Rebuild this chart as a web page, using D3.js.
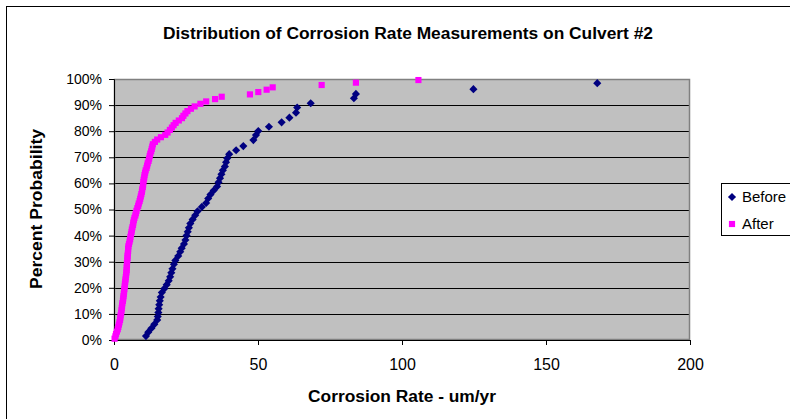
<!DOCTYPE html>
<html>
<head>
<meta charset="utf-8">
<script src="https://cdn.jsdelivr.net/npm/d3@7"></script>
<style>
  body { margin: 0; background: #fff; }
  svg { display: block; font-family: Arial, "Liberation Sans", sans-serif; }
</style>
</head>
<body>
<div id="chart"></div>
<script>
// values: [rate um/yr, percent probability]
const beforeData = [
  [11.1,1.5],[11.9,3.0],[13.0,4.5],[14.0,6.0],[15.0,7.7],[15.2,9.0],[15.4,10.5],[15.5,12.0],
  [15.7,13.5],[15.9,15.0],[16.2,16.5],[16.6,18.2],[17.5,19.7],[18.3,21.2],[19.0,22.7],[19.5,24.2],
  [19.9,25.8],[20.3,27.3],[20.8,29.0],[21.3,30.5],[22.3,32.2],[23.0,33.8],[23.5,35.2],[24.3,36.8],
  [24.8,38.3],[25.2,40.0],[25.6,41.5],[26.0,43.0],[26.5,44.6],[27.3,46.2],[28.2,47.8],[29.0,49.3],
  [30.5,51.0],[32.0,52.5],[32.7,54.2],[33.5,55.7],[34.6,57.3],[35.8,58.8],[36.3,60.4],[36.8,62.0],
  [37.3,63.5],[37.8,65.0],[38.5,66.5],[38.9,68.1],[39.3,69.6],[40.0,71.2],[42.4,72.7],[44.9,74.3],
  [48.4,76.6],[49.3,78.5],[50.1,80.1],[53.8,81.7],[58.2,83.4],[60.9,85.2],[63.2,87.1],[63.6,89.1],
  [68.3,90.7],[83.3,92.6],[84.0,94.3],[124.8,96.1],[167.8,98.4]
];

const afterData = [
  [0.2,0.5],[0.5,1.4],[0.7,2.3],[1.0,3.2],[1.3,4.1],[1.5,5.0],[1.7,5.9],[1.9,6.8],[2.1,7.7],[2.2,8.6],
  [2.3,9.5],[2.5,10.4],[2.6,11.4],[2.7,12.3],[2.8,13.2],[2.9,14.1],[3.1,15.0],[3.2,15.9],[3.3,16.8],[3.4,17.7],
  [3.5,18.6],[3.6,19.5],[3.7,20.5],[3.8,21.4],[3.9,22.3],[4.0,23.2],[4.1,24.1],[4.2,25.0],[4.3,25.9],[4.4,26.8],
  [4.4,27.7],[4.5,28.6],[4.5,29.5],[4.6,30.5],[4.7,31.4],[4.7,32.3],[4.8,33.2],[4.9,34.1],[4.9,35.0],[5.0,35.9],
  [5.2,36.8],[5.4,37.7],[5.6,38.6],[5.7,39.5],[5.9,40.5],[6.1,41.4],[6.2,42.3],[6.4,43.2],[6.6,44.1],[6.7,45.0],
  [6.9,45.9],[7.1,46.8],[7.4,47.7],[7.6,48.6],[7.8,49.5],[8.1,50.5],[8.4,51.4],[8.6,52.3],[8.9,53.2],[9.1,54.1],
  [9.3,55.0],[9.5,55.9],[9.7,56.8],[9.8,57.7],[10.0,58.6],[10.1,59.5],[10.2,60.5],[10.3,61.4],[10.5,62.3],[10.6,63.2],
  [10.8,64.1],[11.0,65.0],[11.3,65.9],[11.5,66.8],[11.7,67.7],[12.0,68.6],[12.2,69.5],[12.4,70.5],[12.6,71.4],[12.9,72.3],
  [13.1,73.2],[13.3,74.1],[13.5,75.0],[14.2,75.9],[15.0,76.8],[16.3,77.7],[17.8,78.6],[18.6,79.5],[19.4,80.5],[20.1,81.4],
  [20.7,82.3],[21.4,83.2],[22.5,84.1],[23.6,85.0],[24.1,85.9],[24.8,86.8],[25.5,87.7],[26.7,88.6],[28.0,89.5],[30.0,90.5],
  [32.0,91.4],[35.1,92.3],[37.4,93.2],[47.2,94.1],[50.1,95.0],[53.0,95.9],[55.1,96.8],[72.1,97.7],[84.0,98.6],[105.7,99.6]
];

const xTicks = [0, 50, 100, 150, 200];
const yTicks = [0, 10, 20, 30, 40, 50, 60, 70, 80, 90, 100];
const seriesNames = ["Before", "After"];

const W = 790, H = 419;
const plot = { left: 114, right: 690, top: 79, bottom: 340 };

const svg = d3.select("#chart").append("svg").attr("width", W).attr("height", H);

// outer chart border (runs off the right and bottom of the window)
svg.append("rect").attr("x", 6.5).attr("y", 6.5).attr("width", 820).attr("height", 430)
  .attr("fill", "#fff").attr("stroke", "#000").attr("stroke-width", 1);

const x = d3.scaleLinear().domain([0, 200]).range([plot.left, plot.right]);
const y = d3.scaleLinear().domain([0, 100]).range([plot.bottom, plot.top]);

// plot background
svg.append("rect")
  .attr("x", plot.left).attr("y", plot.top)
  .attr("width", plot.right - plot.left).attr("height", plot.bottom - plot.top)
  .attr("fill", "#c0c0c0");

// gridlines
svg.append("g").selectAll("line")
  .data(yTicks.filter(d => d > 0 && d < 100))
  .enter().append("line")
  .attr("x1", plot.left).attr("x2", plot.right)
  .attr("y1", d => Math.round(y(d)) + 0.5).attr("y2", d => Math.round(y(d)) + 0.5)
  .attr("stroke", "#000").attr("stroke-width", 1);

// plot border
svg.append("rect")
  .attr("x", plot.left + 0.5).attr("y", plot.top + 0.5)
  .attr("width", plot.right - plot.left - 1).attr("height", plot.bottom - plot.top - 1)
  .attr("fill", "none").attr("stroke", "#808080").attr("stroke-width", 1.5);

// axes
const xAxis = d3.axisBottom(x).tickValues(xTicks).tickSize(5).tickPadding(14);
const yAxis = d3.axisLeft(y).tickValues(yTicks).tickSize(5).tickPadding(7)
  .tickFormat(d => d + "%");

const gx = svg.append("g").attr("transform", "translate(0," + plot.bottom + ")").call(xAxis);
const gy = svg.append("g").attr("transform", "translate(" + plot.left + ",0)").call(yAxis);
[gx, gy].forEach(g => {
  g.select(".domain").attr("stroke", "#000");
  g.selectAll(".tick line").attr("stroke", "#000");
  g.selectAll("text").attr("fill", "#000")
    .style("font-family", "Arial, 'Liberation Sans', sans-serif");
});
gx.selectAll("text").style("font-size", "16px");
gy.selectAll("text").style("font-size", "14px");

// markers
const diamond = d3.symbol().type(d3.symbolDiamond2).size(42);
const square = d3.symbol().type(d3.symbolSquare).size(38);

svg.append("g").selectAll("path")
  .data(beforeData)
  .enter().append("path")
  .attr("d", diamond)
  .attr("transform", d => "translate(" + x(d[0]) + "," + y(d[1]) + ")")
  .attr("fill", "#000080");

svg.append("g").selectAll("path")
  .data(afterData)
  .enter().append("path")
  .attr("d", square)
  .attr("transform", d => "translate(" + x(d[0]) + "," + y(d[1]) + ")")
  .attr("fill", "#ff00ff");

// title and axis labels
svg.append("text").attr("x", 408).attr("y", 39).attr("text-anchor", "middle")
  .style("font-size", "16px").style("font-weight", "bold")
  .attr("textLength", 490).attr("lengthAdjust", "spacingAndGlyphs")
  .text("Distribution of Corrosion Rate Measurements on Culvert #2");

svg.append("text").attr("x", 402).attr("y", 402).attr("text-anchor", "middle")
  .style("font-size", "16px").style("font-weight", "bold")
  .attr("textLength", 188).attr("lengthAdjust", "spacingAndGlyphs")
  .text("Corrosion Rate - um/yr");

svg.append("text").attr("transform", "translate(42,209) rotate(-90)").attr("text-anchor", "middle")
  .style("font-size", "16px").style("font-weight", "bold")
  .attr("textLength", 160).attr("lengthAdjust", "spacingAndGlyphs")
  .text("Percent Probability");

// legend
const legend = svg.append("g");
legend.append("rect").attr("x", 721.5).attr("y", 183.5).attr("width", 100).attr("height", 52)
  .attr("fill", "#fff").attr("stroke", "#000");
const legendMarks = [diamond, square];
const legendColors = ["#000080", "#ff00ff"];
seriesNames.forEach((name, i) => {
  const cy = 197 + i * 27;
  legend.append("path").attr("d", legendMarks[i])
    .attr("transform", "translate(732," + cy + ")").attr("fill", legendColors[i]);
  legend.append("text").attr("x", 742).attr("y", cy + 5)
    .style("font-size", "15px").text(name);
});
</script>
</body>
</html>
